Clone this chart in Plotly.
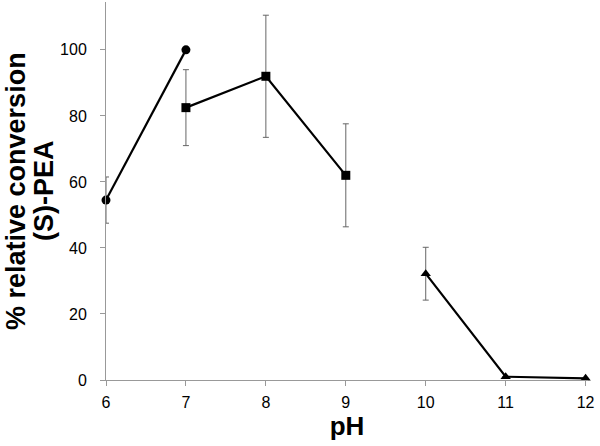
import plotly.graph_objects as go

ph_a = [6, 7]
conv_a = [54.5, 100]
err_a = [7, 0]

ph_b = [7, 8, 9]
conv_b = [82.5, 92, 62]
err_b = [11.5, 18.5, 15.6]

ph_c = [10, 11, 12]
conv_c = [32.2, 1.0, 0.5]
err_c = [8, 0, 0]

x_ticks = [6, 7, 8, 9, 10, 11, 12]
y_ticks = [0, 20, 40, 60, 80, 100]
y_title_lines = ["% relative conversion", "(S)-PEA"]

fig = go.Figure()
err_style = dict(type="data", visible=True, color="#666666", thickness=1, width=3)
for xs, ys, es, sym in [(ph_a, conv_a, err_a, "circle"),
                        (ph_b, conv_b, err_b, "square"),
                        (ph_c, conv_c, err_c, "triangle-up")]:
    fig.add_trace(go.Scatter(
        x=xs, y=ys, mode="lines+markers",
        line=dict(color="black", width=2.2),
        marker=dict(symbol=sym, size=9, color="black"),
        error_y=dict(array=es, **err_style),
        cliponaxis=False, showlegend=False))

for txt, shift in zip(y_title_lines, [-90, -62]):
    fig.add_annotation(text="<b>" + txt + "</b>", xref="paper", yref="paper",
                       x=0, y=0.5, xshift=shift, xanchor="center", yanchor="middle",
                       textangle=-90, showarrow=False, borderpad=0,
                       font=dict(size=27))

fig.update_layout(
    width=600, height=446,
    margin=dict(l=106, r=12, t=2, b=66, autoexpand=False),
    plot_bgcolor="white", paper_bgcolor="white",
    font=dict(family="Liberation Sans, Arial, sans-serif", color="black", size=16),
    xaxis=dict(range=[6, 12.03], tickvals=x_ticks, showline=True, linecolor="#999999",
               linewidth=1, ticks="outside", ticklen=5, tickcolor="#999999",
               showgrid=False, zeroline=False, automargin=False,
               tickfont=dict(size=16), ticklabelstandoff=3,
               title=dict(text="<b>pH</b>", font=dict(size=26), standoff=2)),
    yaxis=dict(range=[0, 114.5], tickvals=y_ticks, showline=True, linecolor="#999999",
               linewidth=1, ticks="outside", ticklen=5, tickcolor="#999999",
               showgrid=False, zeroline=False, automargin=False,
               tickfont=dict(size=16), ticklabelstandoff=10),
)

fig.write_html("out.html", config={"displayModeBar": False},
               post_script="document.body.style.margin='0';")
